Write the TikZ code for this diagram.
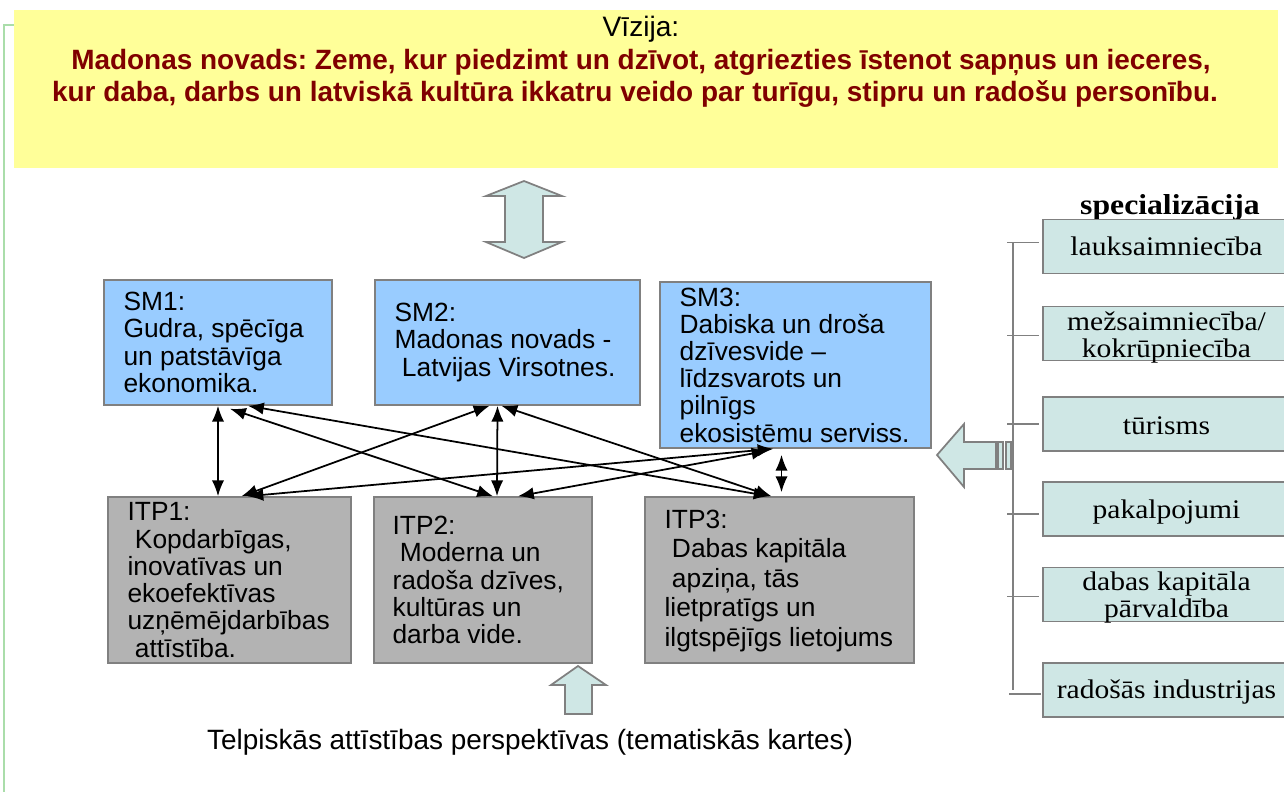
\documentclass[tikz,border=0pt]{standalone}
\usepackage{fontspec}
\usepackage{xcolor}
\setmainfont{Liberation Sans}
\newfontfamily\specfont[FakeStretch=1.1]{Liberation Serif}
\usetikzlibrary{calc,arrows.meta}

\definecolor{vizyellow}{HTML}{FFFF99}
\definecolor{vizred}{HTML}{800000}
\definecolor{smblue}{HTML}{99CCFF}
\definecolor{itpgray}{HTML}{B3B3B3}
\definecolor{palecyan}{HTML}{CFE7E5}
\definecolor{edgegray}{HTML}{808080}
\definecolor{marginline}{HTML}{AADDAA}

\begin{document}
\frenchspacing
\begin{tikzpicture}[x=0.02cm, y=-0.02cm,
        smbox/.style={rectangle,draw = edgegray,fill = smblue,line width = 0.9pt},
        itpbox/.style={rectangle,draw = edgegray,fill = itpgray,line width = 0.9pt},
        boxtext/.style={anchor = west,align = left,inner sep = 0pt,font = \fontsize{15}{15.5}\selectfont},
        specbox/.style={rectangle,draw = edgegray,fill = palecyan,line width = 0.9pt,align = center,inner ysep = 0pt,minimum width = 4.94cm,minimum height = 1.08cm,font = \specfont\fontsize{15.3}{15.6}\selectfont},
        bigarrow/.style={draw = edgegray,fill = palecyan,line width = 1pt,line join = miter},
        biarrow/.style={<->,>={Latex[length=9pt,width=7pt]},line width = 1pt},
        bracket/.style={draw = edgegray,line width = 0.9pt}]
            \useasboundingbox (0, 0) rectangle (1284, 792);

            % margin line on the left
            \draw[marginline, line width = 0.6pt] (14, 25) -- (4, 25) -- (4, 792);

            % vision
            \fill[vizyellow] (14, 10) rectangle (1278, 168);
            \node[anchor = base,font = \fontsize{16}{18}\selectfont] (vizija) at (641, 36) {Vīzija:};
            \node[anchor = base,font = \bfseries\fontsize{15.9}{18}\selectfont,text = vizred] (vizline1) at (641, 69) {Madonas novads: Zeme, kur piedzimt un dzīvot, atgriezties īstenot sapņus un ieceres,};
            \node[anchor = base,font = \bfseries\fontsize{15.9}{18}\selectfont,text = vizred] (vizline2) at (635, 101) {kur daba, darbs un latviskā kultūra ikkatru veido par turīgu, stipru un radošu personību.};

            \draw[bigarrow] (524, 181) -- (562, 196) -- (543, 196) -- (543, 242) -- (562, 242) -- (524, 258) -- (486, 242) -- (505, 242) -- (505, 196) -- (486, 196) -- cycle;

            % strategic goals
            \node[smbox,minimum width = 4.56cm,minimum height = 2.5cm] (sm1) at (218, 342.5) {};
            \node[smbox,minimum width = 5.3cm,minimum height = 2.5cm] (sm2) at (507.5, 342.5) {};
            \node[smbox,minimum width = 5.42cm,minimum height = 3.32cm] (sm3) at (795.5, 365) {};
            \node[boxtext] (sm1text) at ($(sm1.west)+(20, 0)$) {SM1:\\Gudra, spēcīga\\un patstāvīga\\ekonomika.};
            \node[boxtext] (sm2text) at ($(sm2.west)+(20, 0)$) {SM2:\\Madonas novads -\\\hspace*{0.28em}Latvijas Virsotnes.};
            \node[boxtext] (sm3text) at ($(sm3.west)+(20, 0)$) {SM3:\\Dabiska un droša\\dzīvesvide –\\līdzsvarots un\\pilnīgs\\ekosistēmu serviss.};

            % priorities
            \node[itpbox,minimum width = 4.86cm,minimum height = 3.32cm] (itp1) at (229.5, 580) {};
            \node[itpbox,minimum width = 4.36cm,minimum height = 3.32cm] (itp2) at (483, 580) {};
            \node[itpbox,minimum width = 5.38cm,minimum height = 3.32cm] (itp3) at (779.5, 580) {};
            \node[boxtext] (itp1text) at ($(itp1.west)+(20, 0)$) {ITP1:\\\hspace*{0.28em}Kopdarbīgas,\\inovatīvas un\\ekoefektīvas\\uzņēmējdarbības\\\hspace*{0.28em}attīstība.};
            \node[boxtext] (itp2text) at ($(itp2.west)+(19, 0)$) {ITP2:\\\hspace*{0.28em}Moderna un\\radoša dzīves,\\kultūras un\\darba vide.};
            \node[boxtext,font = \fontsize{15}{16.8}\selectfont] (itp3text) at ($(itp3.west)+(20, 1)$) {ITP3:\\\hspace*{0.28em}Dabas kapitāla\\\hspace*{0.28em}apziņa, tās\\lietpratīgs un\\ilgtspējīgs lietojums};

            \draw[biarrow] (sm1.south) -- (sm1.south |- itp1.north);
            \draw[biarrow] ($(sm1.south)+(12, 3)$) -- ($(itp2.north)+(10, 0)$);
            \draw[biarrow] ($(sm1.south)+(30, 0)$) -- ($(itp3.north)+(-10, 0)$);
            \draw[biarrow] ($(sm2.south)+(-18, 0)$) -- ($(itp1.north)+(12, 0)$);
            \draw[biarrow] ($(sm2.south)+(-10, 0)$) -- ($(itp2.north)+(14, 0)$);
            \draw[biarrow] ($(sm2.south)+(-6, 0)$) -- ($(itp3.north)+(-8, 0)$);
            \draw[biarrow] ($(sm3.south)+(-22, 0)$) -- ($(itp1.north)+(18, 0)$);
            \draw[biarrow] ($(sm3.south)+(-28, 2)$) -- ($(itp2.north)+(35, 0)$);
            \draw[biarrow] ($(sm3.south)+(-14, 6)$) -- ($(itp3.north)+(2, -4)$);

            \draw[bigarrow] (578, 666) -- (606, 685) -- (592, 685) -- (592, 714) -- (565, 714) -- (565, 685) -- (551, 685) -- cycle;
            \node[anchor = base,font = \fontsize{15.9}{18}\selectfont] (perspektivas) at (530, 749) {Telpiskās attīstības perspektīvas (tematiskās kartes)};

            % specialisation
            \node[anchor = base,font = \specfont\bfseries\fontsize{16.4}{18}\selectfont] (specializacija) at (1170, 214) {specializācija};
            \node[specbox] (lauks) at (1166.5, 246.5) {lauksaimniecība};
            \node[specbox] (mezs) at (1166.5, 333.5) {};
            \node[specbox] (turisms) at (1166.5, 424) {};
            \node[specbox] (pakalp) at (1166.5, 509) {};
            \node[specbox] (dabas) at (1166.5, 594.5) {};
            \node[specbox] (rados) at (1166.5, 690) {};
            \node[specbox,draw = none,fill = none] (mezstext) at ($(mezs)+(0, 4)$) {mežsaimniecība/\\kokrūpniecība};
            \node[specbox,draw = none,fill = none] (turismstext) at ($(turisms)+(0, 2)$) {tūrisms};
            \node[specbox,draw = none,fill = none] (pakalptext) at ($(pakalp)+(0, 3)$) {pakalpojumi};
            \node[specbox,draw = none,fill = none] (dabastext) at ($(dabas)+(0, 3)$) {dabas kapitāla\\pārvaldība};
            \node[specbox,draw = none,fill = none] (radostext) at ($(rados)+(0, 2)$) {radošās industrijas};

            \draw[bracket] ($(lauks.west)+(-29, -4)$) -- ($(rados.west)+(-29, 0)$);
            \draw[bracket] ($(lauks.west)+(-35, -4)$) -- ($(lauks.west)+(-3, -4)$);
            \draw[bracket] ($(mezs.west)+(-35, 2)$) -- ($(mezs.west)+(-3, 2)$);
            \draw[bracket] ($(turisms.west)+(-35, 0)$) -- ($(turisms.west)+(-3, 0)$);
            \draw[bracket] ($(pakalp.west)+(-35, 5)$) -- ($(pakalp.west)+(-3, 5)$);
            \draw[bracket] ($(dabas.west)+(-35, 2)$) -- ($(dabas.west)+(-3, 2)$);
            \draw[bracket] ($(rados.west)+(-33, 4)$) -- ($(rados.west)+(-1, 4)$);

            \draw[bigarrow] (937, 455) -- (964, 424) -- (964, 442) -- (996, 442) -- (996, 469) -- (964, 469) -- (964, 487) -- cycle;
            \draw[bigarrow] (998, 442) rectangle (1003, 469);
            \draw[bigarrow] (1006, 442) rectangle (1011, 469);
        \end{tikzpicture}
\end{document}
